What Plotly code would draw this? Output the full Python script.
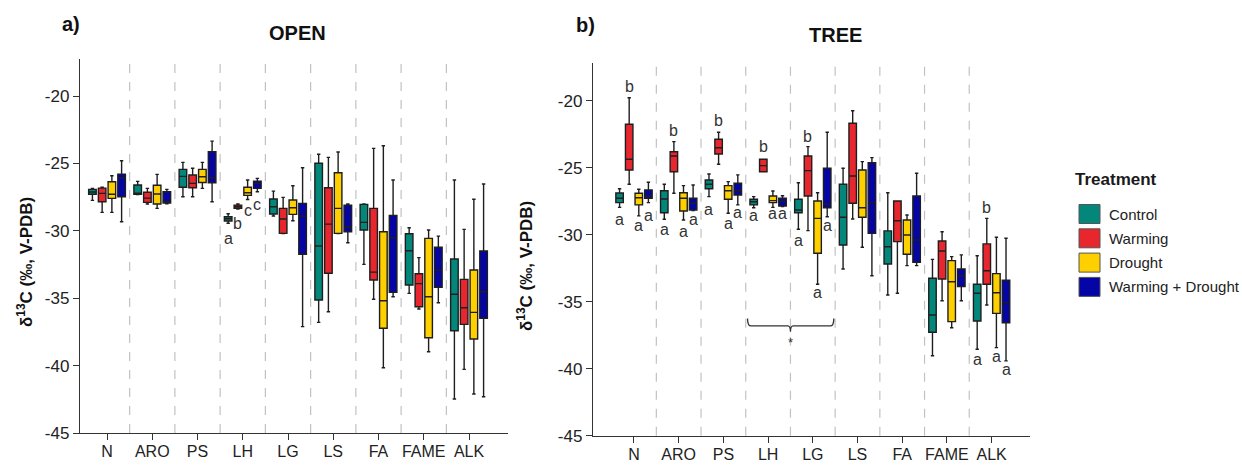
import plotly.graph_objects as go

CATEGORIES = ["N", "ARO", "PS", "LH", "LG", "LS", "FA", "FAME", "ALK"]
TREATMENTS = ["Control", "Warming", "Drought", "Warming + Drought"]
COLORS = ["#02877A", "#E8262D", "#FFD000", "#0505A6"]
YTICKS = [-45, -40, -35, -30, -25, -20]
YTICK_TEXT = ["-45", "-40", "-35", "-30", "-25", "-20"]

# ---- OPEN panel: rows = treatments, columns = categories ----
open_low = [
    [-27.74, -27.30, -27.47, -29.44, -28.90, -36.79, -32.49, -34.64, -42.48],
    [-28.63, -28.01, -27.47, -28.38, -30.20, -36.00, -35.08, -35.80, -40.28],
    [-28.63, -28.33, -26.85, -27.67, -29.25, -30.20, -40.16, -38.97, -42.11],
    [-29.33, -28.00, -27.84, -27.10, -37.11, -30.88, -34.89, -35.34, -42.31],
]
open_q1 = [
    [-27.29, -27.29, -26.77, -29.27, -28.75, -35.13, -29.94, -34.02, -37.41],
    [-27.84, -27.89, -26.80, -28.33, -30.19, -33.15, -33.65, -35.63, -36.94],
    [-27.59, -28.01, -26.41, -27.37, -28.78, -30.19, -37.23, -37.93, -38.03],
    [-27.47, -27.94, -26.43, -26.85, -31.74, -30.07, -34.56, -34.19, -36.49],
]
open_med = [
    [-27.12, -27.22, -25.96, -29.10, -28.21, -31.13, -29.37, -31.48, -34.71],
    [-27.22, -27.57, -26.48, -28.21, -29.12, -29.50, -33.06, -33.92, -35.71],
    [-27.29, -27.27, -25.99, -27.17, -28.29, -28.33, -35.19, -34.89, -36.05],
    [-26.06, -27.84, -26.06, -26.48, -28.92, -29.72, -30.51, -32.93, -34.52],
]
open_q3 = [
    [-26.92, -26.60, -25.44, -28.95, -27.64, -24.99, -28.04, -30.22, -32.09],
    [-26.83, -27.14, -25.86, -28.09, -28.33, -26.80, -28.33, -33.18, -33.60],
    [-26.36, -26.62, -25.44, -26.77, -27.71, -25.69, -30.07, -30.56, -32.91],
    [-25.79, -27.10, -24.13, -26.31, -27.96, -28.09, -28.86, -31.22, -31.50],
]
open_high = [
    [-26.85, -26.33, -24.92, -28.73, -27.05, -24.32, -28.00, -29.77, -26.23],
    [-26.77, -26.85, -25.36, -28.01, -27.52, -24.55, -23.88, -31.99, -29.89],
    [-25.91, -25.81, -24.92, -26.23, -26.65, -24.15, -23.69, -29.94, -27.66],
    [-24.80, -26.92, -23.34, -26.11, -25.32, -28.00, -26.23, -30.39, -26.53],
]

# ---- TREE panel ----
tree_low = [
    [-27.96, -28.85, -27.16, -27.99, -29.60, -32.56, -34.50, -39.03, -38.55],
    [-26.24, -26.91, -24.75, -25.30, -29.70, -28.83, -34.37, -34.93, -35.25],
    [-28.60, -28.90, -28.40, -27.96, -33.70, -30.94, -32.31, -36.94, -38.43],
    [-27.61, -28.20, -27.78, -27.90, -28.66, -33.06, -32.31, -34.93, -39.42],
]
tree_q1 = [
    [-27.61, -28.36, -26.57, -27.78, -28.36, -30.77, -32.19, -37.28, -36.44],
    [-25.17, -25.30, -23.98, -25.30, -27.11, -27.66, -30.52, -33.31, -33.70],
    [-27.78, -28.23, -27.36, -27.61, -31.39, -28.70, -31.46, -36.49, -35.87],
    [-27.28, -28.16, -27.04, -27.86, -27.99, -29.90, -32.06, -33.88, -36.57],
]
tree_med = [
    [-27.28, -27.34, -26.24, -27.54, -28.16, -28.70, -30.90, -35.99, -34.37],
    [-24.37, -24.13, -23.51, -24.85, -25.22, -25.62, -28.96, -31.22, -32.69],
    [-27.24, -27.28, -26.72, -27.46, -28.78, -27.99, -30.02, -33.51, -34.33],
    [-27.11, -27.66, -26.72, -27.50, -27.71, -27.61, -30.40, -33.06, -35.07],
]
tree_q3 = [
    [-26.89, -26.72, -25.92, -27.36, -27.36, -26.24, -29.72, -33.25, -33.70],
    [-21.76, -23.81, -22.88, -24.37, -24.13, -21.69, -27.49, -30.47, -30.69],
    [-26.91, -26.87, -26.34, -27.11, -27.49, -25.17, -28.90, -31.94, -32.91],
    [-26.66, -27.28, -26.16, -27.28, -25.04, -24.63, -27.11, -32.56, -33.40],
]
tree_high = [
    [-26.57, -26.24, -25.47, -27.16, -26.12, -25.04, -26.87, -31.84, -31.57],
    [-19.78, -23.06, -22.36, -24.37, -23.43, -20.75, -27.49, -29.78, -28.78],
    [-26.61, -26.34, -26.04, -26.74, -26.87, -24.55, -28.53, -31.64, -30.19],
    [-26.09, -26.29, -25.54, -27.09, -22.36, -24.25, -25.42, -31.51, -30.27],
]

# significance letters: (category, treatment index, letter, y)
open_letters = [
    ("LH", 0, "a", -30.56), ("LH", 1, "b", -29.44),
    ("LH", 2, "c", -28.46), ("LH", 3, "c", -28.01),
]
tree_letters = [
    ("N", 0, "a", -28.90), ("N", 1, "b", -18.91), ("N", 2, "a", -29.35), ("N", 3, "a", -28.60),
    ("ARO", 0, "a", -29.65), ("ARO", 1, "b", -22.26), ("ARO", 2, "a", -29.78), ("ARO", 3, "a", -28.90),
    ("PS", 0, "a", -28.13), ("PS", 1, "b", -21.51), ("PS", 2, "a", -29.20), ("PS", 3, "a", -28.36),
    ("LH", 0, "a", -28.60), ("LH", 1, "b", -23.43), ("LH", 2, "a", -28.40), ("LH", 3, "a", -28.40),
    ("LG", 0, "a", -30.45), ("LG", 1, "b", -22.69), ("LG", 2, "a", -34.33), ("LG", 3, "a", -29.33),
    ("ALK", 0, "a", -39.35), ("ALK", 1, "b", -27.99), ("ALK", 2, "a", -39.10), ("ALK", 3, "a", -40.04),
]

FONT = "Liberation Sans, Arial, sans-serif"
xpos = list(range(len(CATEGORIES)))
BOXGAP = 0.14
SLOT = (1 - BOXGAP) / len(TREATMENTS)

fig = go.Figure()

panels = [
    ("x", "y", open_low, open_q1, open_med, open_q3, open_high),
    ("x2", "y2", tree_low, tree_q1, tree_med, tree_q3, tree_high),
]
for xa, ya, lo, q1, md, q3, hi in panels:
    for i, t in enumerate(TREATMENTS):
        fig.add_trace(go.Box(
            x=xpos, lowerfence=lo[i], q1=q1[i], median=md[i], q3=q3[i], upperfence=hi[i],
            name=t, legendgroup=t, showlegend=False,
            fillcolor=COLORS[i], line=dict(color="#1e1e1e", width=1.4),
            whiskerwidth=0.45, boxpoints=False, xaxis=xa, yaxis=ya,
            offsetgroup=str(i), hoverinfo="skip",
        ))

annotations = []
for letters, xa, ya in [(open_letters, "x", "y"), (tree_letters, "x2", "y2")]:
    for cat, ti, lab, yv in letters:
        xv = CATEGORIES.index(cat) + (ti - 1.5) * SLOT
        annotations.append(dict(x=xv, y=yv, xref=xa, yref=ya, text=lab, showarrow=False,
                                font=dict(family=FONT, size=16, color="#333333"),
                                xanchor="center", yanchor="middle"))

# bracket + star in TREE panel (LH-LG)
annotations.append(dict(x=3.5, y=-38.06, xref="x2", yref="y2", text="*", showarrow=False,
                        font=dict(family=FONT, size=13, color="#333333"), yanchor="middle"))

shapes = []
for xa in ["x", "x2"]:
    for k in range(len(CATEGORIES) - 1):
        shapes.append(dict(type="line", xref=xa, yref=("y" if xa == "x" else "y2") + " domain",
                           x0=k + 0.5, x1=k + 0.5, y0=0, y1=1,
                           line=dict(color="#C2C2C2", width=1.2, dash="dash")))
shapes.append(dict(type="path", xref="x2", yref="y2",
                   path="M 2.54,-36.25 Q 2.54,-36.81 2.62,-36.81 L 3.44,-36.81 Q 3.5,-36.81 3.5,-37.25 "
                        "Q 3.5,-36.81 3.56,-36.81 L 4.39,-36.81 Q 4.47,-36.81 4.47,-36.25",
                   line=dict(color="#333333", width=1.3)))

# manual legend
PX = lambda px: px / 1242
PY = lambda py: 1 - py / 465
annotations.append(dict(x=PX(1073), y=PY(179), xref="paper", yref="paper", text="<b>Treatment</b>",
                        showarrow=False, xanchor="left", yanchor="middle",
                        font=dict(family=FONT, size=17, color="#1a1a1a")))
for i, t in enumerate(TREATMENTS):
    cy = 214 + i * 24.3
    shapes.append(dict(type="rect", xref="paper", yref="paper",
                       x0=PX(1079), x1=PX(1100), y0=PY(cy + 9.5), y1=PY(cy - 9.5),
                       fillcolor=COLORS[i], line=dict(color="#555555", width=1)))
    annotations.append(dict(x=PX(1107), y=PY(cy), xref="paper", yref="paper", text=t,
                            showarrow=False, xanchor="left", yanchor="middle",
                            font=dict(family=FONT, size=15, color="#222222")))

# titles
for txt, cx, cy, sz in [("<b>a)</b>", 71, 24, 20), ("<b>OPEN</b>", 297, 33, 20),
                        ("<b>b)</b>", 585, 25, 20), ("<b>TREE</b>", 835, 35, 20)]:
    annotations.append(dict(x=PX(cx), y=PY(cy), xref="paper", yref="paper", text=txt,
                            showarrow=False, xanchor="center", yanchor="middle",
                            font=dict(family=FONT, size=sz, color="#111111")))
for cx, cy in [(25, 262), (525, 266)]:
    annotations.append(dict(x=PX(cx), y=PY(cy), xref="paper", yref="paper",
                            text="<b>δ<sup>13</sup>C (‰, V-PDB)</b>", textangle=-90,
                            showarrow=False, xanchor="center", yanchor="middle",
                            font=dict(family=FONT, size=17, color="#111111")))

axis_common = dict(showgrid=False, zeroline=False, showline=True, linecolor="#333333", linewidth=1.3,
                   ticks="outside", ticklen=6, tickcolor="#333333", tickwidth=1.2, automargin=False)
xfont = dict(family=FONT, size=16, color="#222222")
yfont = dict(family=FONT, size=17, color="#222222")

fig.update_layout(
    width=1242, height=465,
    margin=dict(l=0, r=0, t=0, b=0, pad=0, autoexpand=False),
    paper_bgcolor="white", plot_bgcolor="white",
    boxmode="group", boxgap=BOXGAP, boxgroupgap=0.22,
    showlegend=False,
    xaxis=dict(domain=[PX(80), PX(508)], range=[-0.597, 8.862], tickvals=xpos, ticktext=CATEGORIES,
               anchor="y", tickfont=xfont, ticklabelstandoff=-2, **axis_common),
    yaxis=dict(domain=[PY(433), PY(59)], range=[-45, -17.25], tickvals=YTICKS, ticktext=YTICK_TEXT,
               anchor="x", tickfont=yfont, **axis_common),
    xaxis2=dict(domain=[PX(593), PX(1030)], range=[-0.917, 8.859], tickvals=xpos, ticktext=CATEGORIES,
                anchor="y2", tickfont=xfont, ticklabelstandoff=-2, **axis_common),
    yaxis2=dict(domain=[PY(435.7), PY(63)], range=[-45, -17.19], tickvals=YTICKS, ticktext=YTICK_TEXT,
                anchor="x2", tickfont=yfont, **axis_common),
    shapes=shapes, annotations=annotations,
)

fig.write_html("out.html", config={"displayModeBar": False},
               post_script="document.body.style.margin='0px';")
